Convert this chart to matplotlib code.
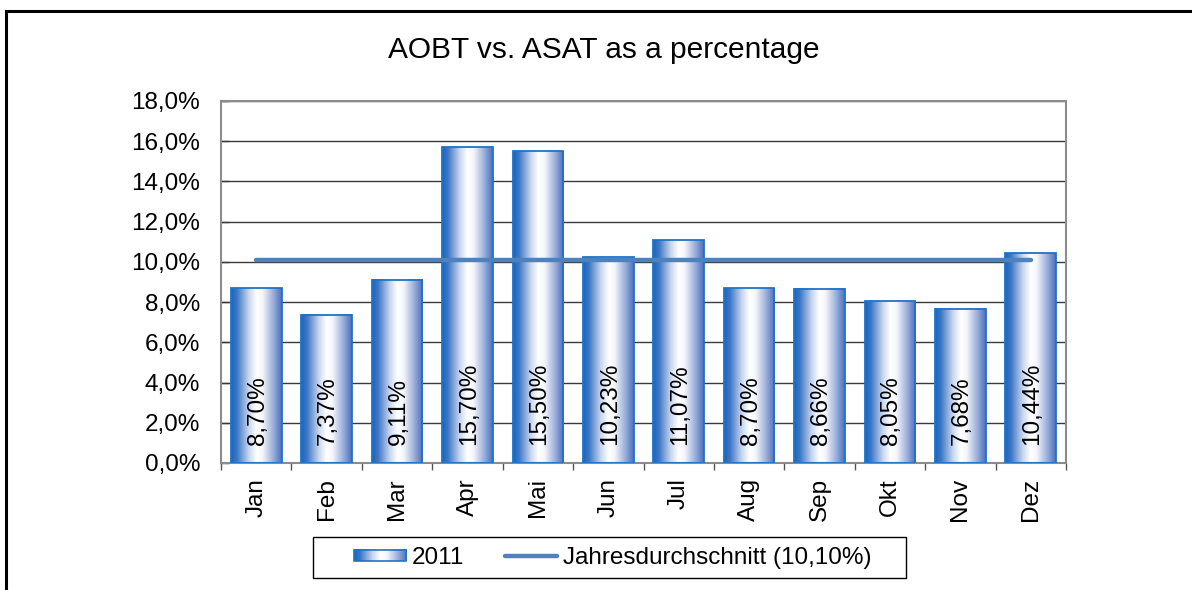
import matplotlib
matplotlib.use("Agg")
import matplotlib.pyplot as plt
import numpy as np
from matplotlib.colors import LinearSegmentedColormap
from matplotlib.patches import Rectangle
from matplotlib.lines import Line2D
from matplotlib.legend_handler import HandlerBase

plt.rcParams['font.family'] = ['Liberation Sans', 'DejaVu Sans']

months = ["Jan", "Feb", "Mar", "Apr", "Mai", "Jun", "Jul", "Aug", "Sep", "Okt", "Nov", "Dez"]
values = [8.70, 7.37, 9.11, 15.70, 15.50, 10.23, 11.07, 8.70, 8.66, 8.05, 7.68, 10.44]
average = 10.10
series_name = "2011"
avg_name = "Jahresdurchschnitt (10,10%)"
title = "AOBT vs. ASAT as a percentage"
yticks = [0, 2, 4, 6, 8, 10, 12, 14, 16, 18]

FS = 17.5
W, H = 1192, 590
fig = plt.figure(figsize=(W / 100, H / 100), dpi=100)
ax = fig.add_axes([221 / W, 1 - 463 / H, (1066 - 221) / W, (463 - 101) / H])

cmap = LinearSegmentedColormap.from_list(
    "bar", [(0.0, "#1565c0"), (0.12, "#3f78c6"), (0.35, "#c9d6ee"),
            (0.5, "#ffffff"), (0.62, "#f4f6fb"), (0.82, "#9fb2dc"), (1.0, "#4a6fbf")])
grad = np.linspace(0, 1, 256).reshape(1, -1)

bw = 0.72
x = np.arange(len(months))
for xi, v in zip(x, values):
    ax.imshow(grad, extent=[xi - bw / 2, xi + bw / 2, 0, v], aspect='auto',
              cmap=cmap, zorder=2, interpolation='bilinear')
    ax.add_patch(Rectangle((xi - bw / 2, 0), bw, v, fill=False,
                           edgecolor="#1e74c8", linewidth=1.3, zorder=3))
    lbl = f"{v:.2f}%".replace(".", ",")
    ax.text(xi + 0.02, 0.88, lbl, rotation=90, rotation_mode='anchor',
            ha='left', va='center', fontsize=FS, color='black', zorder=5)

ax.plot(x, [average] * len(x), color="#4f81bd", linewidth=3.2,
        solid_capstyle='round', zorder=4)

ax.set_xlim(-0.5, len(months) - 0.5)
ax.set_ylim(0, 18)
ax.set_yticks(yticks)
ax.set_yticklabels([f"{t:.1f}%".replace(".", ",") for t in yticks], fontsize=FS)
ax.yaxis.grid(True, color="#3a3a3a", linewidth=1.0, zorder=0)
ax.set_axisbelow(True)
ax.set_xticks(x)
ax.set_xticklabels(months, rotation=90, fontsize=FS)
ax.set_xticks(np.arange(-0.5, len(months)), minor=True)
ax.tick_params(axis='x', which='major', length=0, pad=11)
ax.tick_params(axis='x', which='minor', length=5, color="#555555", width=1)
ax.tick_params(axis='y', direction='in', length=6, color="#3a3a3a", width=1, pad=15)
for s in ax.spines.values():
    s.set_color("#8c8c8c")
    s.set_linewidth(1.5)


class GradHandler(HandlerBase):
    def create_artists(self, legend, orig, xd, yd, width, height, fontsize, trans):
        from matplotlib.image import BboxImage
        from matplotlib.transforms import Bbox, TransformedBbox
        h = height * 0.68
        y0 = yd + (height - h) / 2
        bb = Bbox.from_bounds(xd, y0, width, h)
        tbb = TransformedBbox(bb, trans)
        img = BboxImage(tbb, cmap=cmap, interpolation='bilinear')
        img.set_data(grad)
        rect = Rectangle((xd, y0), width, h, fill=False, edgecolor="#1e74c8",
                         linewidth=1.2, transform=trans)
        return [img, rect]


bar_handle = Rectangle((0, 0), 1, 1)
line_handle = Line2D([], [], color="#4f81bd", linewidth=3.2, solid_capstyle='round')
leg = fig.legend([bar_handle, line_handle], [series_name, avg_name],
                 handler_map={Rectangle: GradHandler()},
                 loc='center left', bbox_to_anchor=(354 / W, 1 - 558 / H), ncol=2,
                 fontsize=FS, frameon=False,
                 handlelength=2.14, handletextpad=0.25, columnspacing=1.65,
                 borderpad=0, borderaxespad=0)

fig.add_artist(Rectangle((313 / W, 1 - 578 / H), (906 - 313) / W, (578 - 537) / H,
                         fill=False, edgecolor='black', linewidth=1.0,
                         transform=fig.transFigure))

fig.text(604 / W, 1 - 50 / H, title, ha='center', va='center', fontsize=21.5)

fig.add_artist(Rectangle((6 / W, -0.1), 1.2, 1.1 - 11 / H, fill=False,
                         edgecolor='black', linewidth=2.2, transform=fig.transFigure,
                         clip_on=False))

fig.savefig("out.png", dpi=100, facecolor='white')
